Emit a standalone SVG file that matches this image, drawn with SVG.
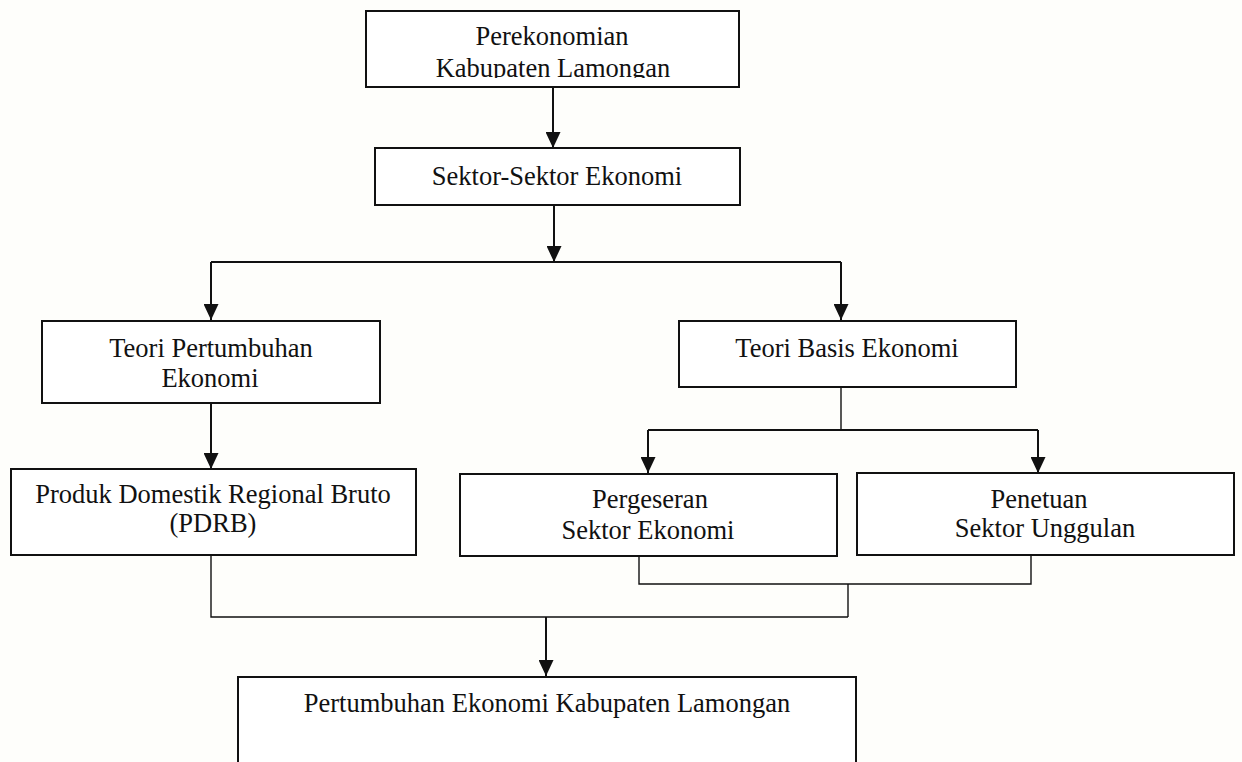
<svg xmlns="http://www.w3.org/2000/svg" width="1242" height="762" viewBox="0 0 1242 762">
  <style>
    .box { fill: #ffffff; stroke: #111111; stroke-width: 2; }
    .lbl { font-family: "Liberation Serif", "Times New Roman", serif; font-size: 26.5px; fill: #111111; text-anchor: middle; }
    .conn { fill: none; stroke: #111111; stroke-width: 2; }
    .thin { fill: none; stroke: #111111; stroke-width: 1.4; }
  </style>
  <defs>
    <marker id="arr" markerUnits="userSpaceOnUse" markerWidth="16" markerHeight="15" refX="16" refY="7.5" orient="auto">
      <path d="M0,0 L16,7.5 L0,15 z" fill="#111111"/>
    </marker>
    <clipPath id="clipTop">
      <rect x="366" y="11" width="373" height="67"/>
    </clipPath>
  </defs>
  <rect x="0" y="0" width="1242" height="762" fill="#fefefb"/>

  <g id="connectors">
    <path class="conn" d="M553,87 V148" marker-end="url(#arr)"/>
    <path class="conn" d="M554,205 V262" marker-end="url(#arr)"/>
    <path class="conn" d="M211,262 H841"/>
    <path class="conn" d="M211,262 V320" marker-end="url(#arr)"/>
    <path class="conn" d="M841,262 V320" marker-end="url(#arr)"/>
    <path class="conn" d="M211,403 V469" marker-end="url(#arr)"/>
    <path class="thin" d="M841,387 V430"/>
    <path class="conn" d="M648,430 H1038"/>
    <path class="conn" d="M648,430 V473" marker-end="url(#arr)"/>
    <path class="conn" d="M1038,430 V473" marker-end="url(#arr)"/>
    <path class="thin" d="M211,555 V617 H848"/>
    <path class="thin" d="M639,556 V584 H1031 V556"/>
    <path class="thin" d="M848,584 V617"/>
    <path class="conn" d="M546,617 V676" marker-end="url(#arr)"/>
  </g>

  <g id="n-perekonomian">
    <rect class="box" x="366" y="11" width="373" height="76"/>
    <g clip-path="url(#clipTop)">
      <text class="lbl" x="552" y="45">Perekonomian</text>
      <text class="lbl" x="553" y="77">Kabupaten Lamongan</text>
    </g>
  </g>

  <g id="n-sektor">
    <rect class="box" x="375" y="148" width="365" height="57"/>
    <text class="lbl" x="557" y="185">Sektor-Sektor Ekonomi</text>
  </g>

  <g id="n-teori-pertumbuhan">
    <rect class="box" x="42" y="321" width="338" height="82"/>
    <text class="lbl" x="211" y="357">Teori Pertumbuhan</text>
    <text class="lbl" x="210" y="387">Ekonomi</text>
  </g>

  <g id="n-teori-basis">
    <rect class="box" x="679" y="321" width="337" height="66"/>
    <text class="lbl" x="847" y="357">Teori Basis Ekonomi</text>
  </g>

  <g id="n-pdrb">
    <rect class="box" x="11" y="469" width="405" height="86"/>
    <text class="lbl" x="213" y="503">Produk Domestik Regional Bruto</text>
    <text class="lbl" x="213" y="532">(PDRB)</text>
  </g>

  <g id="n-pergeseran">
    <rect class="box" x="460" y="474" width="377" height="82"/>
    <text class="lbl" x="650" y="508">Pergeseran</text>
    <text class="lbl" x="648" y="539">Sektor Ekonomi</text>
  </g>

  <g id="n-penetuan">
    <rect class="box" x="857" y="473" width="377" height="82"/>
    <text class="lbl" x="1039" y="508">Penetuan</text>
    <text class="lbl" x="1045" y="537">Sektor Unggulan</text>
  </g>

  <g id="n-pertumbuhan">
    <rect class="box" x="238" y="677" width="618" height="120"/>
    <text class="lbl" x="547" y="712">Pertumbuhan Ekonomi Kabupaten Lamongan</text>
  </g>
</svg>
